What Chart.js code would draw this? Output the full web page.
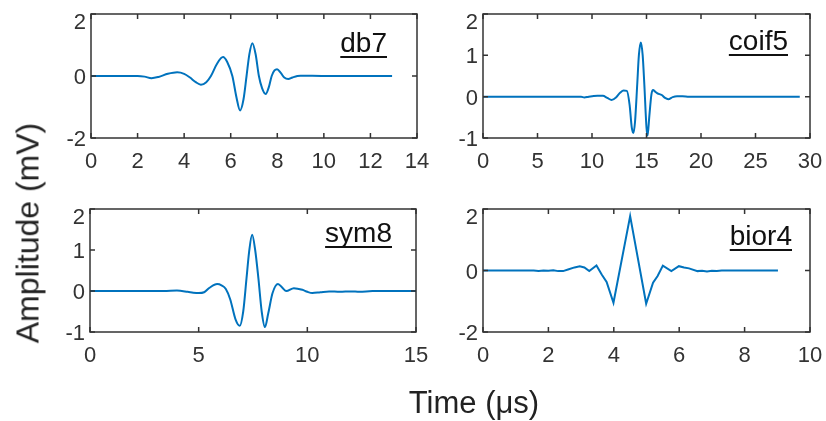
<html>

<head>
  <title>Wavelets</title>
  <style>
    body {
      margin: 0;
      background: #fff;
    }

    #wrap {
      position: relative;
      width: 826px;
      height: 421px;
    }

    canvas {
      position: absolute;
      left: 0;
      top: 0;
    }

    .axt {
      position: absolute;
      font-family: "Liberation Sans", Arial, sans-serif;
      font-size: 31px;
      color: #222;
      white-space: nowrap;
      transform: translate(-50%, -50%);
    }
  </style>
</head>

<body>
  <div id="wrap">
    <canvas id="c0" width="826" height="421"></canvas>
    <canvas id="c1" width="826" height="421"></canvas>
    <canvas id="c2" width="826" height="421"></canvas>
    <canvas id="c3" width="826" height="421"></canvas>
    <div class="axt" style="left:28px;top:233px;font-size:32px;transform:translate(-50%,-50%) rotate(-90deg)">Amplitude (mV)</div>
    <div class="axt" style="left:474px;top:403px">Time (μs)</div>
  </div>

  <script src="https://cdn.jsdelivr.net/npm/chart.js"></script>
  <script>
    // wavelet names (one per panel)
    var names = ['db7', 'coif5', 'sym8', 'bior4'];

    // values: time (us) and amplitude (mV)
    var db7T = [0, 1, 2, 2.3, 2.6, 2.9, 3.3, 3.7, 4.0, 4.25, 4.5, 4.72, 4.95, 5.15, 5.4, 5.67, 5.85, 6.07, 6.25, 6.4, 6.55, 6.68, 6.8, 6.93, 7.07, 7.21, 7.35, 7.5, 7.64, 7.76, 7.88, 7.99, 8.15, 8.3, 8.47, 8.65, 8.86, 9.0, 10, 11, 12, 12.93];
    var db7V = [0, 0, 0, -0.02, -0.07, -0.03, 0.07, 0.12, 0.07, -0.05, -0.2, -0.28, -0.2, 0, 0.38, 0.61, 0.45, 0, -0.7, -1.11, -0.75, 0, 0.7, 1.06, 0.7, 0, -0.4, -0.58, -0.35, 0, 0.18, 0.22, 0.1, -0.05, -0.1, -0.05, 0, 0.01, 0, 0, 0, 0];

    var coif5T = [0, 5, 9, 9.3, 9.7, 10.5, 11, 11.4, 11.8, 12.2, 12.6, 12.9, 13.2, 13.45, 13.65, 13.8, 13.95, 14.15, 14.3, 14.48, 14.65, 14.8, 15.0, 15.1, 15.25, 15.45, 15.6, 15.8, 16.0, 16.4, 16.7, 17.0, 17.4, 17.8, 18.3, 18.9, 20, 25, 29.06];
    var coif5V = [0, 0, 0, -0.02, 0, 0.02, 0.02, -0.03, -0.08, -0.02, 0.1, 0.15, 0.14, -0.2, -0.75, -0.88, -0.6, 0.3, 1.0, 1.31, 1.0, 0.3, -0.75, -0.94, -0.5, 0.05, 0.16, 0.12, 0.08, 0.04, -0.03, -0.06, -0.01, 0.01, 0.01, 0, 0, 0, 0];

    var sym8T = [0, 2, 3.4, 4.0, 4.5, 4.75, 5.0, 5.25, 5.5, 5.85, 6.05, 6.25, 6.45, 6.7, 6.89, 7.05, 7.2, 7.32, 7.46, 7.6, 7.75, 7.9, 8.05, 8.2, 8.4, 8.65, 8.85, 9.03, 9.38, 9.77, 10.0, 10.23, 10.6, 11, 11.5, 12, 12.4, 13, 15];
    var sym8V = [0, 0, 0, 0.01, -0.02, -0.04, -0.05, -0.03, 0.08, 0.17, 0.14, 0.05, -0.2, -0.7, -0.85, -0.5, 0.3, 0.95, 1.37, 1.0, 0.3, -0.5, -0.88, -0.55, -0.05, 0.17, 0.08, 0, 0.07, 0.03, -0.02, -0.05, -0.03, -0.01, -0.02, -0.01, -0.02, 0, 0];

    var bior4T = [0, 1, 1.55, 1.7, 1.85, 2.0, 2.15, 2.3, 2.45, 2.6, 2.8, 2.96, 3.1, 3.25, 3.47, 3.63, 3.78, 3.99, 4.5, 4.99, 5.2, 5.34, 5.5, 5.76, 5.99, 6.15, 6.3, 6.56, 6.7, 6.85, 7.0, 7.15, 7.3, 8, 9.02];
    var bior4V = [0, 0, 0, -0.02, 0, -0.01, 0.01, -0.02, -0.02, 0.03, 0.1, 0.14, 0.1, -0.02, 0.16, -0.13, -0.37, -1.05, 1.77, -1.08, -0.4, -0.18, 0.16, -0.02, 0.14, 0.1, 0.07, -0.02, -0.01, -0.03, -0.01, -0.02, 0, 0, 0];

    // axis limits and tick steps
    var xMax = [14, 30, 15, 10];
    var xStep = [2, 5, 5, 2];
    var yMin = [-2, -1, -1, -2];
    var yMax = [2, 2, 2, 2];
    var yStep = [2, 1, 1, 2];

    var series = [[db7T, db7V], [coif5T, coif5V], [sym8T, sym8V], [bior4T, bior4V]];

    // plot boxes in page pixels: left, top, right, bottom
    var boxes = [[91, 14, 417, 138], [483, 14, 810, 138], [90, 209, 416, 332], [483, 209, 810, 332]];
    // name label: offset from right edge, baseline below top
    var namePos = [[30, 38], [22, 36], [24, 33], [18, 36]];

    var Y_W = 60, X_H = 40;
    var ink = '#333';
    var fontFam = '"Liberation Sans", Arial, sans-serif';
    var tickFont = { family: fontFam, size: 22 };

    var boxPlugin = {
      id: 'box',
      afterDraw: function (chart) {
        var ctx = chart.ctx, a = chart.chartArea;
        var sx = chart.scales.x, sy = chart.scales.y;
        ctx.save();
        ctx.strokeStyle = ink;
        ctx.lineWidth = 1.5;
        ctx.strokeRect(a.left, a.top, a.right - a.left, a.bottom - a.top);
        ctx.beginPath();
        sx.ticks.forEach(function (t) {
          var px = sx.getPixelForValue(t.value);
          ctx.moveTo(px, a.bottom); ctx.lineTo(px, a.bottom - 5);
          ctx.moveTo(px, a.top); ctx.lineTo(px, a.top + 5);
        });
        sy.ticks.forEach(function (t) {
          var py = sy.getPixelForValue(t.value);
          ctx.moveTo(a.left, py); ctx.lineTo(a.left + 5, py);
          ctx.moveTo(a.right, py); ctx.lineTo(a.right - 5, py);
        });
        ctx.stroke();

        // y tick labels, top one kept inside the box height like the original
        ctx.font = '22px ' + fontFam;
        ctx.fillStyle = ink;
        ctx.textAlign = 'right';
        ctx.textBaseline = 'middle';
        sy.ticks.forEach(function (t) {
          var py = sy.getPixelForValue(t.value) + 2;
          ctx.fillText(t.label, a.left - 5, Math.max(py, a.top + 9));
        });

        // wavelet name, underlined
        var i = chart.options.plugins.box.idx;
        var name = chart.data.datasets[0].label;
        ctx.font = '28px ' + fontFam;
        ctx.fillStyle = '#111';
        ctx.textBaseline = 'alphabetic';
        var rx = a.right - namePos[i][0], by = a.top + namePos[i][1];
        ctx.fillText(name, rx, by);
        var w = ctx.measureText(name).width;
        ctx.fillRect(rx - w, by + 4, w, 2);
        ctx.restore();
      }
    };

    function fixX(s) { s.height = X_H; s.paddingLeft = 0; s.paddingRight = 0; }
    function fixY(s) { s.width = Y_W; s.paddingTop = 0; s.paddingBottom = 0; }

    series.forEach(function (sr, i) {
      var b = boxes[i];
      var pts = sr[0].map(function (t, k) { return { x: t, y: sr[1][k] }; });
      new Chart(document.getElementById('c' + i), {
        type: 'line',
        data: {
          datasets: [{
            label: names[i],
            data: pts,
            borderColor: '#0072BD',
            borderWidth: 2,
            pointRadius: 0,
            cubicInterpolationMode: i === 3 ? 'default' : 'monotone',
            tension: 0
          }]
        },
        options: {
          responsive: false,
          animation: false,
          layout: {
            padding: { left: b[0] - Y_W, top: b[1], right: 826 - b[2], bottom: 421 - b[3] - X_H }
          },
          plugins: { legend: { display: false }, tooltip: { enabled: false }, box: { idx: i } },
          scales: {
            x: {
              type: 'linear', min: 0, max: xMax[i],
              ticks: { stepSize: xStep[i], font: tickFont, color: ink, padding: 11, maxRotation: 0 },
              grid: { display: false, drawTicks: false },
              border: { display: false },
              afterFit: fixX
            },
            y: {
              type: 'linear', min: yMin[i], max: yMax[i],
              ticks: { stepSize: yStep[i], display: false },
              grid: { display: false, drawTicks: false },
              border: { display: false },
              afterFit: fixY
            }
          }
        },
        plugins: [boxPlugin]
      });
    });
  </script>
</body>

</html>
